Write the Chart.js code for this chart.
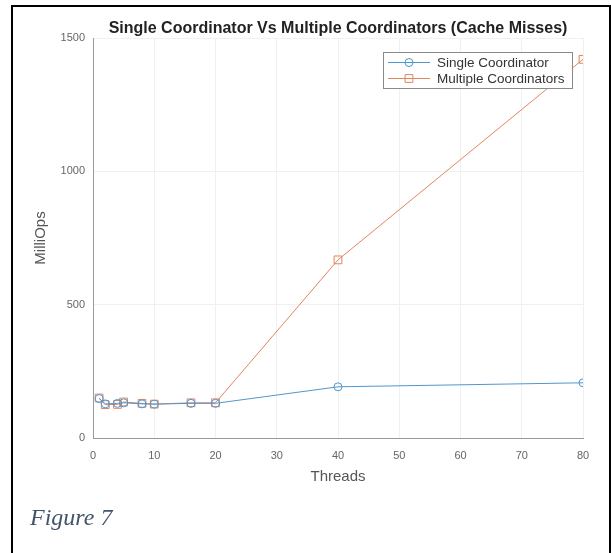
<!DOCTYPE html>
<html>
<head>
<meta charset="utf-8">
<script src="https://cdn.jsdelivr.net/npm/chart.js@4"></script>
<style>
  html, body { margin: 0; padding: 0; background: #fff; }
  #wrap { position: relative; width: 611px; height: 553px; }
  #frame {
    position: absolute; left: 11px; top: 5px; width: 596px; height: 560px;
    border: 2px solid #000; border-bottom: none; pointer-events: none;
  }
  #caption {
    position: absolute; left: 30px; top: 504px;
    font: italic 24px "Liberation Serif", "Times New Roman", serif; color: #44546a;
  }
  canvas { position: absolute; left: 0; top: 0; }
</style>
</head>
<body>
<div id="wrap">
  <canvas id="chart" width="611" height="553"></canvas>
  <div id="frame"></div>
  <div id="caption">Figure 7</div>
</div>
<script>
// thread counts on the x axis
const threads = [1, 2, 4, 5, 8, 10, 16, 20, 40, 80];
// throughput per run
const singleCoord = [148, 128, 130, 132, 128, 127, 130, 130, 192, 207];
const multiCoord = [150, 125, 126, 135, 130, 127, 132, 132, 668, 1420];
const xTicks = [0, 10, 20, 30, 40, 50, 60, 70, 80];
const yTicks = [0, 500, 1000, 1500];

const chartTitle = 'Single Coordinator Vs Multiple Coordinators (Cache Misses)';
const blue = '#4f97cf';
const orange = '#e3845e';
const sans = '"Liberation Sans", Arial, sans-serif';

function toPoints(ys) {
    return threads.map(function (t, i) { return {x: t, y: ys[i]}; });
}

// title centred over the plot area rather than the canvas
const plotTitle = {
    id: 'plotTitle',
    afterDraw: function (chart) {
        const ctx = chart.ctx;
        const a = chart.chartArea;
        ctx.save();
        ctx.fillStyle = '#222';
        ctx.font = 'bold 16px ' + sans;
        ctx.textAlign = 'center';
        ctx.textBaseline = 'middle';
        ctx.fillText(chartTitle, (a.left + a.right) / 2, 29);
        ctx.restore();
    }
};

// MATLAB style legend: line with the marker in the middle, boxed
const matlabLegend = {
    id: 'matlabLegend',
    afterDraw: function (chart) {
        const ctx = chart.ctx;
        const x0 = 383, y0 = 52, w = 189, h = 36;
        ctx.save();
        ctx.fillStyle = '#fff';
        ctx.fillRect(x0, y0, w, h);
        ctx.strokeStyle = '#8a8a8a';
        ctx.lineWidth = 1;
        ctx.strokeRect(x0 + 0.5, y0 + 0.5, w, h);
        chart.data.datasets.forEach(function (ds, i) {
            const yy = y0 + 10 + i * 16;
            ctx.strokeStyle = ds.borderColor;
            ctx.fillStyle = 'rgba(0,0,0,0)';
            ctx.lineWidth = 1;
            ctx.beginPath();
            ctx.moveTo(x0 + 5, yy + 0.5);
            ctx.lineTo(x0 + 47, yy + 0.5);
            ctx.stroke();
            Chart.helpers.drawPoint(ctx, {
                pointStyle: ds.pointStyle, radius: ds.pointRadius, borderWidth: 1
            }, x0 + 26, yy + 0.5);
            ctx.fillStyle = '#333';
            ctx.font = '13.5px ' + sans;
            ctx.textBaseline = 'middle';
            ctx.fillText(ds.label, x0 + 54, yy + 1);
        });
        ctx.restore();
    }
};

const data = {
    datasets: [{
        label: 'Single Coordinator',
        data: toPoints(singleCoord),
        borderColor: blue,
        backgroundColor: 'rgba(0,0,0,0)',
        borderWidth: 1,
        pointStyle: 'circle',
        pointRadius: 4,
        pointBorderWidth: 1,
        pointBackgroundColor: 'rgba(0,0,0,0)'
    }, {
        label: 'Multiple Coordinators',
        data: toPoints(multiCoord),
        borderColor: orange,
        backgroundColor: 'rgba(0,0,0,0)',
        borderWidth: 1,
        pointStyle: 'rect',
        pointRadius: 5.5,
        pointBorderWidth: 1,
        pointBackgroundColor: 'rgba(0,0,0,0)'
    }]
};

const config = {
    type: 'line',
    data: data,
    options: {
        responsive: false,
        animation: false,
        layout: { padding: { left: 0, right: 28, top: 38, bottom: 63 } },
        plugins: {
            legend: { display: false },
            tooltip: { enabled: false },
            title: { display: false }
        },
        scales: {
            x: {
                type: 'linear',
                min: 0,
                max: 80,
                afterFit: function (scale) { scale.height = 52; },
                afterBuildTicks: function (scale) {
                    scale.ticks = xTicks.map(function (v) { return {value: v}; });
                },
                grid: { color: '#f0f0f0', drawTicks: false },
                border: { color: '#9a9a9a' },
                ticks: {
                    color: '#666',
                    padding: 11,
                    maxRotation: 0,
                    callback: function (value) { return String(value); },
                    font: { family: sans, size: 11 }
                },
                title: {
                    display: true,
                    text: 'Threads',
                    color: '#555',
                    padding: { top: 0, bottom: 4 },
                    font: { family: sans, size: 15 }
                }
            },
            y: {
                min: 0,
                max: 1500,
                afterFit: function (scale) { scale.width = 93; },
                afterBuildTicks: function (scale) {
                    scale.ticks = yTicks.map(function (v) { return {value: v}; });
                },
                grid: { color: '#f0f0f0', drawTicks: false },
                border: { color: '#9a9a9a' },
                ticks: {
                    color: '#666',
                    padding: 8,
                    callback: function (value) { return String(value); },
                    font: { family: sans, size: 11 }
                },
                title: {
                    display: true,
                    text: 'MilliOps',
                    color: '#555',
                    padding: { top: 32, bottom: 0 },
                    font: { family: sans, size: 15 }
                }
            }
        }
    },
    plugins: [plotTitle, matlabLegend]
};

var myChart = new Chart(document.getElementById('chart'), config);
</script>
</body>
</html>
